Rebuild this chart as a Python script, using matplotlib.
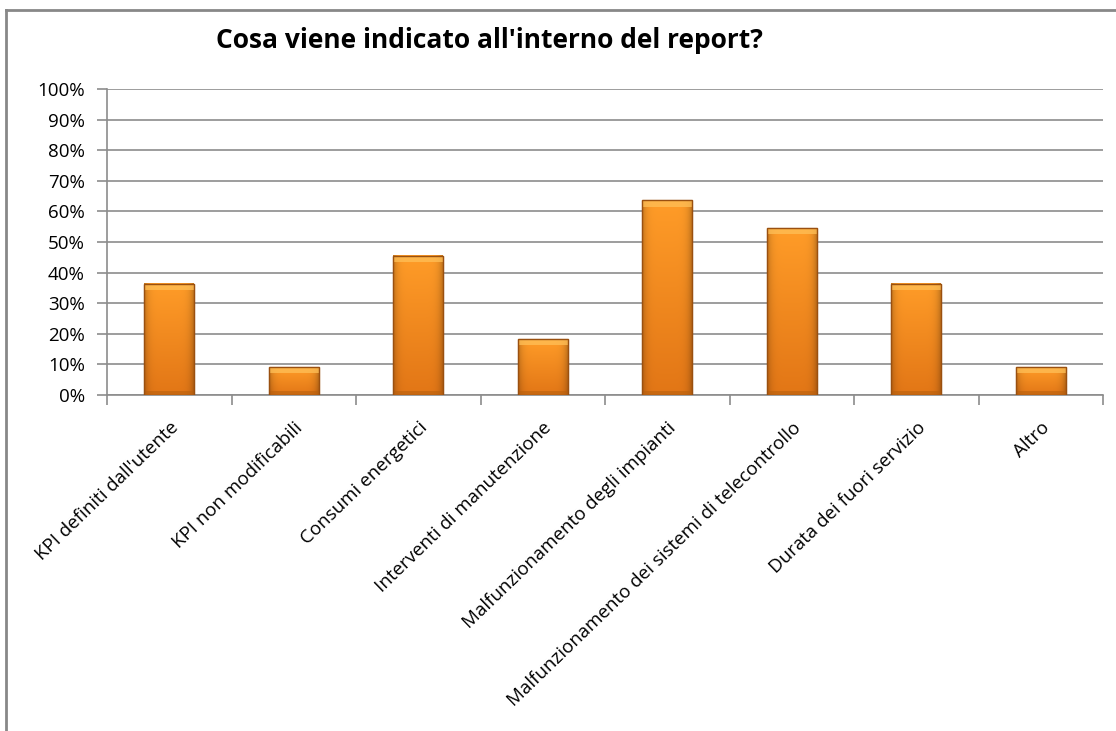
import matplotlib
matplotlib.use("Agg")
import matplotlib.pyplot as plt
import numpy as np
from matplotlib.lines import Line2D
from matplotlib.ticker import MultipleLocator, FuncFormatter

plt.rcParams['font.family'] = ['Open Sans', 'DejaVu Sans']

categories = [
    "KPI definiti dall'utente",
    "KPI non modificabili",
    "Consumi energetici",
    "Interventi di manutenzione",
    "Malfunzionamento degli impianti",
    "Malfunzionamento dei sistemi di telecontrollo",
    "Durata dei fuori servizio",
    "Altro",
]
values = [36.4, 9.1, 45.5, 18.2, 63.6, 54.5, 36.4, 9.1]
title = "Cosa viene indicato all'interno del report?"

fig = plt.figure(figsize=(11.16, 7.31), dpi=100)
ax = fig.add_axes([0.0959, 0.4596, 0.8925, 0.4186])

x = np.arange(len(categories))
bars = ax.bar(x, values, width=0.4, color='#F0881E', edgecolor='#9A5010',
              linewidth=0.8, zorder=3)

# gradient / bevel fill for each bar
for b in bars:
    x0, y0 = b.get_x(), b.get_y()
    w, h = b.get_width(), b.get_height()
    ny, nx = 100, 40
    yy = np.linspace(1, 0, ny)[:, None]
    xx = np.linspace(0, 1, nx)[None, :]
    top = np.array([255, 156, 40]) / 255.0
    bot = np.array([226, 118, 22]) / 255.0
    img = (bot[None, None, :] * (1 - yy[..., None]) + top[None, None, :] * yy[..., None])
    img = np.broadcast_to(img, (ny, nx, 3)).copy()
    side = np.clip(1 - 0.22 * (np.abs(xx - 0.5) * 2) ** 6, 0, 1)
    img *= side[..., None]
    ax.imshow(img, extent=(x0, x0 + w, y0, y0 + h), aspect='auto',
              zorder=3.5, interpolation='bilinear')
    bev = min(h * 0.25, 2.0)
    ax.fill_between([x0, x0 + w], y0 + h - bev, y0 + h, color='#FFC058',
                    alpha=0.75, zorder=3.6, linewidth=0)
    ax.fill_between([x0, x0 + w], y0, y0 + 1.2, color='#B8600E',
                    alpha=0.6, zorder=3.6, linewidth=0)
    ax.add_patch(plt.Rectangle((x0, y0), w, h, fill=False,
                               edgecolor='#9A5010', linewidth=1, zorder=3.8))

ax.set_xlim(-0.5, len(categories) - 0.5)
ax.set_ylim(0, 100)
ax.yaxis.set_major_locator(MultipleLocator(10))
ax.yaxis.set_major_formatter(FuncFormatter(lambda v, p: f"{int(round(v))}%"))
ax.grid(axis='y', color='#8C8C8C', linewidth=1.2, zorder=0)
ax.set_axisbelow(True)

for s in ['top', 'right']:
    ax.spines[s].set_visible(False)
ax.spines['left'].set_color('#8C8C8C')
ax.spines['bottom'].set_color('#8C8C8C')
ax.spines['left'].set_linewidth(1.2)
ax.spines['bottom'].set_linewidth(1.2)

ax.set_xticks(np.arange(len(categories) + 1) - 0.5)
ax.set_xticklabels([])
ax.set_xticks(x, minor=True)
ax.set_xticklabels(categories, minor=True, rotation=44, ha='right',
                   va='top', rotation_mode='anchor', fontsize=13.5)
ax.tick_params(axis='x', which='minor', length=0, pad=17)
ax.tick_params(axis='x', which='major', length=7, color='#8C8C8C', width=1.2)
ax.tick_params(axis='y', length=7, color='#8C8C8C', width=1.2, labelsize=13.5,
               pad=9)

fig.text(0.439, 0.945, title, ha='center', va='center', fontsize=19,
         fontweight='bold')

# outer chart border (left and top)
fig.add_artist(Line2D([6 / 1116, 6 / 1116], [0, 1 - 10 / 731],
                      transform=fig.transFigure, color='#888888', linewidth=2))
fig.add_artist(Line2D([6 / 1116, 1], [1 - 10 / 731, 1 - 10 / 731],
                      transform=fig.transFigure, color='#888888', linewidth=2))

fig.savefig("out.png", dpi=100)
